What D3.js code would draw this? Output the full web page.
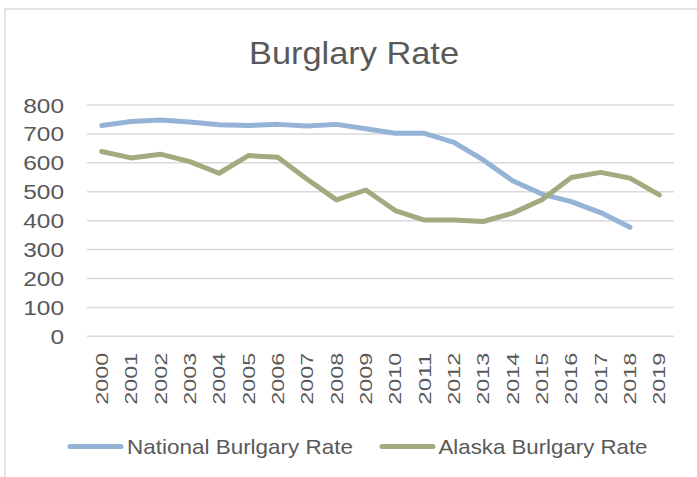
<!DOCTYPE html>
<html>
<head>
<meta charset="utf-8">
<script src="https://cdn.jsdelivr.net/npm/d3@7"></script>
<style>
  html, body { margin: 0; padding: 0; background: #fff; }
  text { font-family: "Liberation Sans", Arial, sans-serif; fill: #595959; }
</style>
</head>
<body>
<svg id="chart" width="697" height="477"></svg>
<script>
const years = ["2000","2001","2002","2003","2004","2005","2006","2007","2008","2009",
               "2010","2011","2012","2013","2014","2015","2016","2017","2018","2019"];
const nationalRate = [729,743,748,741,732,729,733,727,733,718,
                      702,702,671,610,538,492,466,428,377,null];
const alaskaRate = [639,617,630,604,564,625,619,543,472,506,
                    435,402,402,397,426,472,549,567,547,489];
const yTicks = [0,100,200,300,400,500,600,700,800];
const seriesNames = ["National Burlgary Rate", "Alaska Burlgary Rate"];
const seriesColors = ["#95B3D7", "#A2AB7E"];
const titleText = "Burglary Rate";

const svg = d3.select("#chart");

// chart border
svg.append("rect")
  .attr("x", 5).attr("y", 9).attr("width", 720).attr("height", 500)
  .attr("fill", "none").attr("stroke", "#d9d9d9").attr("stroke-width", 1.5);

const plot = { left: 87, right: 674, top: 105, bottom: 336.3 };

const x = d3.scaleBand().domain(years).range([plot.left, plot.right]);
const y = d3.scaleLinear().domain([0, 800]).range([plot.bottom, plot.top]);

// title
svg.append("text")
  .attr("x", 354).attr("y", 63.5)
  .attr("text-anchor", "middle")
  .attr("font-size", 31.5)
  .attr("textLength", 210).attr("lengthAdjust", "spacingAndGlyphs")
  .text(titleText);

// gridlines
svg.append("g").selectAll("line").data(yTicks).join("line")
  .attr("x1", plot.left).attr("x2", plot.right)
  .attr("y1", d => y(d)).attr("y2", d => y(d))
  .attr("stroke", "#d9d9d9").attr("stroke-width", 1.5);

// y axis labels
const yAxis = d3.axisLeft(y).tickValues(yTicks).tickSize(0).tickPadding(0);
const yg = svg.append("g").attr("transform", `translate(64,0)`).call(yAxis);
yg.select(".domain").remove();
yg.selectAll("text")
  .attr("font-size", 19.5)
  .attr("font-family", null)
  .attr("dy", "0.36em")
  .each(function(d) {
    const s = String(d);
    d3.select(this).attr("textLength", s.length * 13.6).attr("lengthAdjust", "spacingAndGlyphs");
  });

// x axis labels (rotated)
const xAxis = d3.axisBottom(x).tickSize(0).tickPadding(0);
const xg = svg.append("g").call(xAxis);
xg.select(".domain").remove();
xg.selectAll(".tick").attr("transform", d => `translate(${x(d) + x.bandwidth()/2},352.7)`);
xg.selectAll("text")
  .attr("font-size", 17)
  .attr("font-family", null)
  .attr("transform", "rotate(-90)")
  .attr("text-anchor", "end")
  .attr("x", 0).attr("y", 0)
  .attr("dy", "0.36em")
  .attr("textLength", 52).attr("lengthAdjust", "spacingAndGlyphs");

// lines
const line = d3.line()
  .defined(d => d.v !== null)
  .x(d => x(d.year) + x.bandwidth()/2)
  .y(d => y(d.v));

[nationalRate, alaskaRate].forEach((arr, i) => {
  const data = years.map((yr, j) => ({ year: yr, v: arr[j] }));
  svg.append("path")
    .datum(data)
    .attr("d", line)
    .attr("fill", "none")
    .attr("stroke", seriesColors[i])
    .attr("stroke-width", 5)
    .attr("stroke-linejoin", "round")
    .attr("stroke-linecap", "round");
});

// legend
const legendItems = [
  { x1: 70, x2: 121, tx: 127, tw: 226 },
  { x1: 382, x2: 433, tx: 438.5, tw: 209 }
];
legendItems.forEach((it, i) => {
  svg.append("line")
    .attr("x1", it.x1).attr("x2", it.x2)
    .attr("y1", 446.5).attr("y2", 446.5)
    .attr("stroke", seriesColors[i]).attr("stroke-width", 5)
    .attr("stroke-linecap", "round");
  svg.append("text")
    .attr("x", it.tx).attr("y", 453.5)
    .attr("font-size", 21)
    .attr("textLength", it.tw).attr("lengthAdjust", "spacingAndGlyphs")
    .text(seriesNames[i]);
});
</script>
</body>
</html>
